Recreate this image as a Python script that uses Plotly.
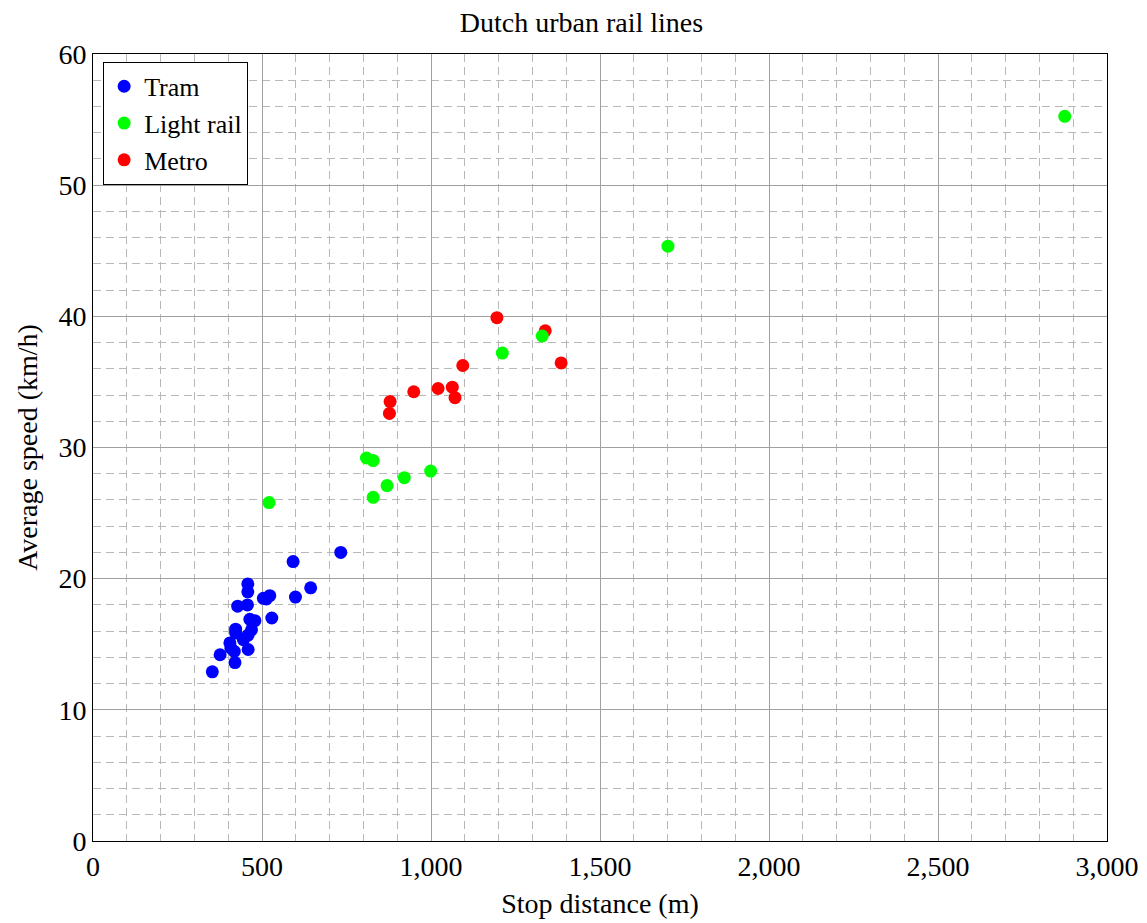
import plotly.graph_objects as go

# Data
tram_stop_distance = [353, 376, 408, 405, 418, 420, 422, 422, 428, 445, 459, 459, 457,
                      458, 458, 464, 469, 479, 504, 513, 523, 529, 592, 599, 644, 733]
tram_speed = [12.9, 14.2, 14.7, 15.1, 14.45, 13.6, 16.15, 15.85, 17.9, 15.35, 15.7, 14.6,
              18.0, 19.6, 19.0, 16.9, 16.1, 16.8, 18.5, 18.45, 18.7, 17.0, 21.3, 18.6,
              19.3, 22.0]

light_rail_stop_distance = [521, 809, 829, 829, 870, 921, 999, 1211, 1329, 1701, 2875]
light_rail_speed = [25.8, 29.2, 29.0, 26.2, 27.1, 27.7, 28.2, 37.2, 38.5, 45.35, 55.25]

metro_stop_distance = [877, 879, 949, 1021, 1063, 1071, 1094, 1195, 1338, 1385]
metro_speed = [32.6, 33.5, 34.25, 34.5, 34.6, 33.8, 36.25, 39.9, 38.9, 36.45]

x_ticks = [0, 500, 1000, 1500, 2000, 2500, 3000]
y_ticks = [0, 10, 20, 30, 40, 50, 60]

FONT = "Liberation Serif"
FS = 28

fig = go.Figure()
fig.add_trace(go.Scatter(x=tram_stop_distance, y=tram_speed, mode="markers", name="Tram",
                         marker=dict(color="#0000ff", size=13), legendrank=1))
fig.add_trace(go.Scatter(x=metro_stop_distance, y=metro_speed, mode="markers", name="Metro",
                         marker=dict(color="#ff0000", size=13), legendrank=3))
fig.add_trace(go.Scatter(x=light_rail_stop_distance, y=light_rail_speed, mode="markers",
                         name="Light rail", marker=dict(color="#00ff00", size=13),
                         legendrank=2))

axis_common = dict(
    showline=True, linecolor="black", linewidth=1, mirror=True,
    showgrid=True, gridcolor="#a0a0a0", gridwidth=1,
    zeroline=False, ticks="", tickfont=dict(family=FONT, size=FS, color="black"),
)

fig.update_xaxes(
    range=[0, 3000], tickvals=x_ticks, tickformat=",d",
    title=dict(text="Stop distance (m)", font=dict(family=FONT, size=FS, color="black"),
               standoff=12),
    minor=dict(dtick=100, showgrid=True, gridcolor="#b8b8b8", griddash="8px,5px",
               gridwidth=1),
    **axis_common,
)
fig.update_yaxes(
    range=[0, 60], tickvals=y_ticks,
    title=dict(text="Average speed (km/h)", font=dict(family=FONT, size=FS, color="black"),
               standoff=12),
    minor=dict(dtick=2, showgrid=True, gridcolor="#b8b8b8", griddash="8px,5px",
               gridwidth=1),
    **axis_common,
)

fig.update_layout(
    width=1147, height=923,
    margin=dict(l=85, r=48, t=46, b=90),
    paper_bgcolor="white", plot_bgcolor="white",
    title=dict(text="Dutch urban rail lines", x=0.5, xanchor="center", y=0.995,
               yanchor="top", font=dict(family=FONT, size=FS, color="black")),
    font=dict(family=FONT, size=FS, color="black"),
    legend=dict(x=0.01, y=0.99, xanchor="left", yanchor="top",
                bgcolor="white", bordercolor="black", borderwidth=1,
                font=dict(family=FONT, size=26, color="black"),
                itemwidth=30, tracegroupgap=0),
    showlegend=True,
)

fig.write_html("out.html")
